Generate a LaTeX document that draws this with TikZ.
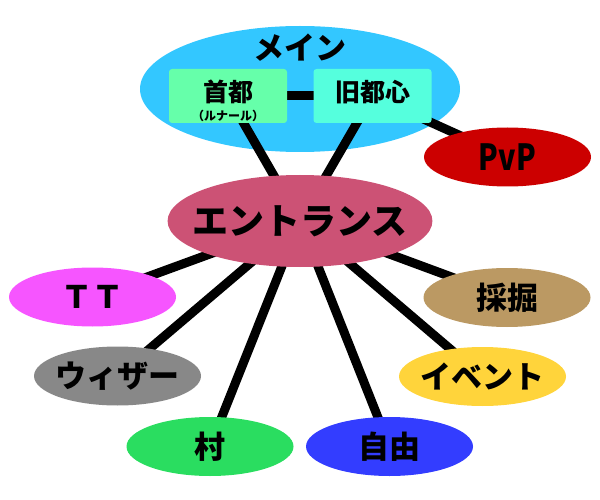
\documentclass[tikz,border=0pt]{standalone}
\usepackage{fontspec}
\usetikzlibrary{shapes.geometric}
\newfontfamily\jp{Noto Sans CJK JP}
\definecolor{cMain}{RGB}{51,199,255}
\definecolor{cCapital}{RGB}{102,255,170}
\definecolor{cOld}{RGB}{85,255,221}
\definecolor{cPvp}{RGB}{204,0,0}
\definecolor{cEntrance}{RGB}{204,82,117}
\definecolor{cTt}{RGB}{246,85,255}
\definecolor{cWizard}{RGB}{136,136,136}
\definecolor{cVillage}{RGB}{42,221,96}
\definecolor{cMining}{RGB}{187,153,99}
\definecolor{cEvent}{RGB}{255,212,59}
\definecolor{cFree}{RGB}{51,61,255}
\pgfdeclarelayer{back}
\pgfdeclarelayer{edges}
\pgfsetlayers{back,edges,main}
\begin{document}
\begin{tikzpicture}[x=1pt,y=-1pt]
    \tikzstyle{bubble} = [ellipse, draw=none, minimum width=167pt, minimum height=59pt, inner sep=0pt, text centered, font=\jp\bfseries\fontsize{31}{31}\selectfont]
    \tikzstyle{box} = [rectangle, rounded corners=3pt, minimum width=118pt, minimum height=54pt, inner sep=0pt]
    \tikzstyle{boxtext} = [align=center, font=\jp\bfseries\fontsize{25}{25}\selectfont]
    \tikzstyle{link} = [line width=9pt]

    \useasboundingbox (0,0) rectangle (600,500);

    \begin{pgfonlayer}{back}
      \draw (300,89) node[ellipse, fill=cMain, minimum width=320pt, minimum height=126pt, inner sep=0pt,
        label={[yshift=41pt, font=\jp\bfseries\fontsize{31}{31}\selectfont]center:メイン}] (0){};
    \end{pgfonlayer}

      \draw
        (228, 96) node[box, fill=cCapital, label={[boxtext, yshift=-5pt]center:{首都\\[-6pt]{\fontsize{12}{12}\selectfont （ルナール）}}}] (1){}
        (372.5, 96) node[box, fill=cOld, label={[boxtext, yshift=4pt]center:旧都心}] (2){}
        (507.5, 157) node[bubble, fill=cPvp] (3){\fontsize{36}{36}\selectfont\scalebox{0.8}[1]{PvP}}
        (300, 221) node[bubble, fill=cEntrance, minimum width=262pt, minimum height=92pt, inner xsep=-14pt, font=\jp\bfseries\fontsize{36}{36}\selectfont] (4){エントランス}
        (92.5, 297) node[bubble, fill=cTt] (5){ＴＴ}
        (117.5, 376) node[bubble, fill=cWizard, inner xsep=-4pt] (6){ウィザー}
        (210, 446.5) node[bubble, fill=cVillage] (7){村}
        (389.5, 446.5) node[bubble, fill=cFree] (8){自由}
        (482.5, 376.5) node[bubble, fill=cEvent, inner xsep=-4pt] (9){イベント}
        (507, 297.5) node[bubble, fill=cMining] (10){採掘};

      \begin{pgfonlayer}{edges}
        \draw[link] (1.center) -- (2.center);
        \draw[link] (1.center) -- (4.center);
        \draw[link] (2.center) -- (4.center);
        \draw[link] (2.center) -- (3.center);
        \foreach \n in {5,...,10}
          \draw[link] (4.center) -- (\n.center);
      \end{pgfonlayer}
    \end{tikzpicture}
\end{document}
